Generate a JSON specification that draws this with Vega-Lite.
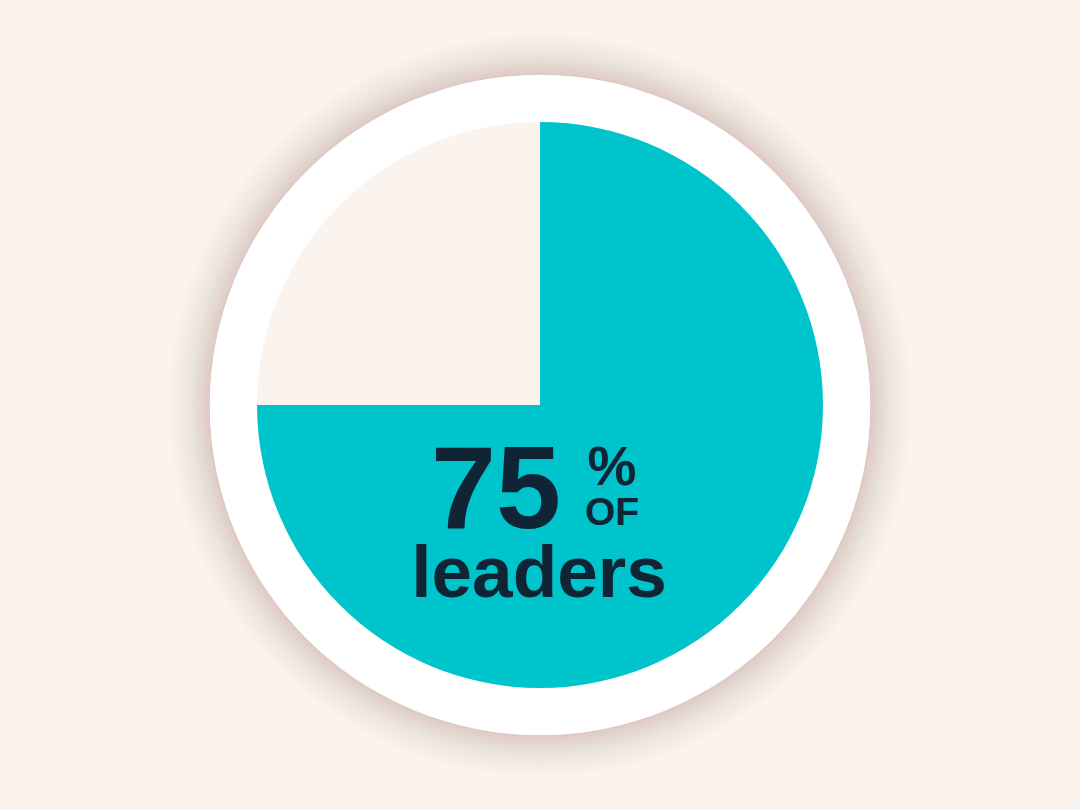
{
  "$schema": "https://vega.github.io/schema/vega-lite/v6.json",
  "width": 1080,
  "height": 810,
  "autosize": {"type": "fit", "contains": "padding"},
  "padding": 0,
  "background": "#fbf3ee",
  "config": {"view": {"stroke": null}},
  "data": {
    "values": [
      {"group": "leaders", "value": 75, "rank": 1},
      {"group": "other", "value": 25, "rank": 2}
    ]
  },
  "layer": [
    {"mark": {"type": "arc", "radius": 372, "theta": 0, "theta2": 6.2832, "fill": "#4a3a34", "opacity": 0.003}, "encoding": {}},
    {"mark": {"type": "arc", "radius": 369, "theta": 0, "theta2": 6.2832, "fill": "#4a3a34", "opacity": 0.003}, "encoding": {}},
    {"mark": {"type": "arc", "radius": 366, "theta": 0, "theta2": 6.2832, "fill": "#4a3a34", "opacity": 0.004}, "encoding": {}},
    {"mark": {"type": "arc", "radius": 363, "theta": 0, "theta2": 6.2832, "fill": "#4a3a34", "opacity": 0.004}, "encoding": {}},
    {"mark": {"type": "arc", "radius": 360, "theta": 0, "theta2": 6.2832, "fill": "#4a3a34", "opacity": 0.004}, "encoding": {}},
    {"mark": {"type": "arc", "radius": 357, "theta": 0, "theta2": 6.2832, "fill": "#4a3a34", "opacity": 0.005}, "encoding": {}},
    {"mark": {"type": "arc", "radius": 354, "theta": 0, "theta2": 6.2832, "fill": "#4a3a34", "opacity": 0.005}, "encoding": {}},
    {"mark": {"type": "arc", "radius": 351, "theta": 0, "theta2": 6.2832, "fill": "#4a3a34", "opacity": 0.005}, "encoding": {}},
    {"mark": {"type": "arc", "radius": 348, "theta": 0, "theta2": 6.2832, "fill": "#4a3a34", "opacity": 0.006}, "encoding": {}},
    {"mark": {"type": "arc", "radius": 345, "theta": 0, "theta2": 6.2832, "fill": "#4a3a34", "opacity": 0.006}, "encoding": {}},
    {"mark": {"type": "arc", "radius": 342, "theta": 0, "theta2": 6.2832, "fill": "#4a3a34", "opacity": 0.007}, "encoding": {}},
    {"mark": {"type": "arc", "radius": 339, "theta": 0, "theta2": 6.2832, "fill": "#4a3a34", "opacity": 0.007}, "encoding": {}},
    {"mark": {"type": "arc", "radius": 336, "theta": 0, "theta2": 6.2832, "fill": "#4a3a34", "opacity": 0.008}, "encoding": {}},
    {"mark": {"type": "arc", "radius": 333, "theta": 0, "theta2": 6.2832, "fill": "#4a3a34", "opacity": 0.008}, "encoding": {}},
    {"mark": {"type": "arc", "radius": 330, "theta": 0, "theta2": 6.2832, "fill": "#ffffff"}, "encoding": {}},
    {
      "mark": {"type": "arc", "radius": 283, "stroke": null},
      "encoding": {
        "theta": {"field": "value", "type": "quantitative", "stack": true},
        "order": {"field": "rank", "type": "quantitative"},
        "color": {
          "field": "group",
          "type": "nominal",
          "scale": {"domain": ["leaders", "other"], "range": ["#00c4cc", "#fbf3ee"]},
          "legend": null
        }
      }
    },
    {
      "data": {"values": [{"label": "75"}]},
      "mark": {"type": "text", "font": "Liberation Sans", "fontWeight": "bold", "fontSize": 117, "color": "#0f2535", "align": "center", "baseline": "alphabetic", "dx": -44, "dy": 123},
      "encoding": {"text": {"field": "label"}}
    },
    {
      "data": {"values": [{"label": "%"}]},
      "mark": {"type": "text", "font": "Liberation Sans", "fontWeight": "bold", "fontSize": 55, "color": "#0f2535", "align": "center", "baseline": "alphabetic", "dx": 72, "dy": 80},
      "encoding": {"text": {"field": "label"}}
    },
    {
      "data": {"values": [{"label": "OF"}]},
      "mark": {"type": "text", "font": "Liberation Sans", "fontWeight": "bold", "fontSize": 39, "color": "#0f2535", "align": "center", "baseline": "alphabetic", "dx": 72, "dy": 120},
      "encoding": {"text": {"field": "label"}}
    },
    {
      "data": {"values": [{"label": "leaders"}]},
      "mark": {"type": "text", "font": "Liberation Sans", "fontWeight": "bold", "fontSize": 73, "color": "#0f2535", "align": "center", "baseline": "alphabetic", "dx": -1, "dy": 192},
      "encoding": {"text": {"field": "label"}}
    }
  ]
}
